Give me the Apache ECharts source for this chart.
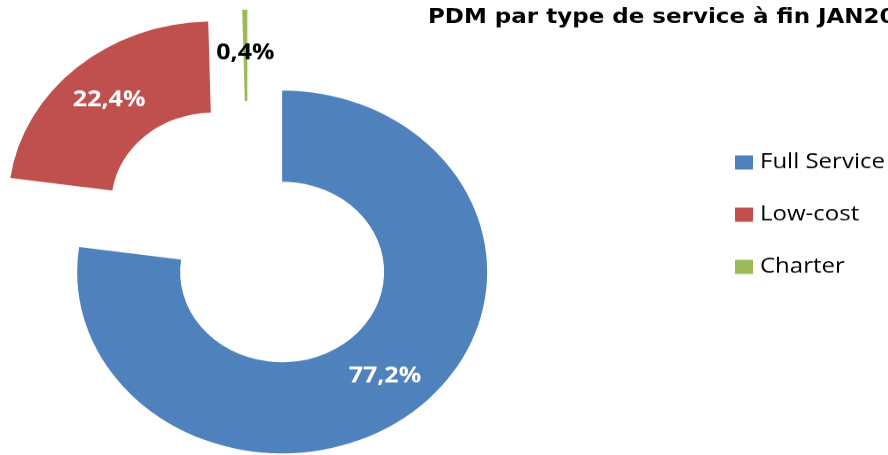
<!DOCTYPE html>
<html>
<head>
<meta charset="utf-8">
<script src="https://cdn.jsdelivr.net/npm/echarts@6/dist/echarts.min.js"></script>
<style>
html, body { margin: 0; padding: 0; background: #fff; overflow: hidden; }
/* la figure d'origine est écrasée verticalement (anneau elliptique) */
#main { width: 888px; height: 514px; transform: scaleY(0.8852); transform-origin: 0 0; }
</style>
</head>
<body>
<div id="main"></div>
<script>
//types de service
var serviceTypes = ['Full Service', 'Low-cost', 'Charter'];
//part de marché (%)
var shareValues = [77.2, 22.4, 0.4];
var sliceColors = ['#4F81BD', '#C0504D', '#9BBB59'];
var labelColors = ['#ffffff', '#ffffff', '#000000'];

var chart = echarts.init(document.getElementById('main'));

var pieData = [];
for (var i = 0; i < serviceTypes.length; i++) {
	pieData.push({
		name: serviceTypes[i],
		value: shareValues[i],
		selected: true,
		itemStyle: { color: sliceColors[i] },
		label: { color: labelColors[i] }
	});
}

var option = {
	animation: false,
	title: {
		text: 'PDM par type de service à fin JAN2014',
		left: 423,
		top: 4,
		textStyle: {
			fontFamily: 'DejaVu Sans',
			fontWeight: 'bold',
			fontSize: 23,
			color: '#000'
		}
	},
	legend: {
		orient: 'vertical',
		left: 730,
		top: 166,
		itemWidth: 18,
		itemHeight: 16,
		itemGap: 34,
		icon: 'rect',
		selectedMode: false,
		data: serviceTypes,
		textStyle: {
			fontFamily: 'Open Sans',
			fontSize: 24,
			lineHeight: 25,
			padding: [0, 0, 0, 2],
			color: '#000'
		}
	},
	series: [{
		type: 'pie',
		center: [248, 268],
		radius: [102, 205],
		startAngle: 90,
		clockwise: true,
		selectedMode: 'multiple',
		selectedOffset: 52,
		avoidLabelOverlap: false,
		itemStyle: { borderWidth: 0 },
		select: { itemStyle: { borderWidth: 0 } },
		emphasis: { disabled: true },
		label: {
			show: true,
			position: 'inside',
			fontFamily: 'Open Sans',
			fontWeight: 'bold',
			fontSize: 25,
			formatter: function(p) {
				return p.value.toFixed(1).replace('.', ',') + '%';
			}
		},
		labelLine: { show: false },
		data: pieData
	}]
};
chart.setOption(option);
</script>
</body>
</html>
